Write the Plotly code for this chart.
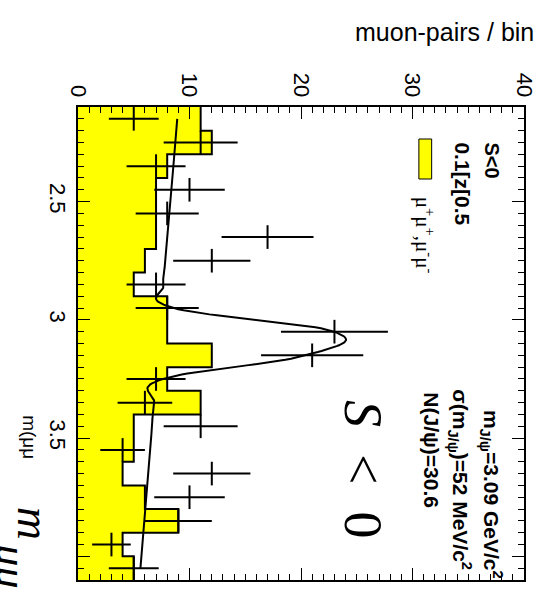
import math
import numpy as np
import plotly.graph_objects as go

# ---------------- data ----------------
mass_centers = [2.15, 2.25, 2.35, 2.45, 2.55, 2.65, 2.75, 2.85, 2.95, 3.05,
                3.15, 3.25, 3.35, 3.45, 3.55, 3.65, 3.75, 3.85, 3.95, 4.05]
bin_width = 0.1
# opposite-sign pairs (points with sqrt(N) errors)
os_counts = [5, 11, 7, 10, 8, 17, 12, 7, 8, 23,
             21, 7, 6, 11, 4, 12, 10, 9, 3, 5]
# like-sign pairs mu+mu+, mu-mu- (yellow histogram)
ls_counts = [11, 12, 8, 7, 7, 7, 6, 5, 8, 8,
             12, 8, 11, 5, 5, 4, 6, 9, 4, 5]
# fit result
fit_mass = 3.094     # GeV/c^2
fit_sigma = 0.052    # GeV/c^2
fit_njpsi = 30.6
bg_low = 8.9         # background level at first bin centre
bg_high = 5.6        # background level at last bin centre
curve_tension = 0.6  # smoothing of the drawn fit curve

value_ticks = [0, 10, 20, 30, 40]
mass_ticks = [2.5, 3.0, 3.5, 4.0]
mass_ticktext = ["2.5", "3", "3.5", ""]

# ---------------- derived ----------------
c = np.array(mass_centers)
lo = c - bin_width / 2
hi = c + bin_width / 2

step_x = np.repeat(np.array(ls_counts, float), 2)
step_y = np.column_stack([lo, hi]).ravel()

def Phi(z):
    return 0.5 * (1 + math.erf(z / math.sqrt(2)))

bg = bg_low + (bg_high - bg_low) * (c - c[0]) / (c[-1] - c[0])
sig = np.array([fit_njpsi * (Phi((h - fit_mass) / fit_sigma) - Phi((l - fit_mass) / fit_sigma))
                for l, h in zip(lo, hi)])
fit_vals = bg + sig

# smooth curve through the per-bin fit values (cardinal spline)
P = np.column_stack([fit_vals, c])
Pext = np.vstack([P[0], P, P[-1]])
curve = []
ts = np.linspace(0, 1, 25)
for i in range(len(P) - 1):
    p0, p1, p2, p3 = Pext[i], Pext[i + 1], Pext[i + 2], Pext[i + 3]
    m1 = curve_tension * (p2 - p0)
    m2 = curve_tension * (p3 - p1)
    for t in (ts if i == 0 else ts[1:]):
        h00 = 2 * t**3 - 3 * t**2 + 1
        h10 = t**3 - 2 * t**2 + t
        h01 = -2 * t**3 + 3 * t**2
        h11 = t**3 - t**2
        curve.append(h00 * p1 + h10 * m1 + h01 * p2 + h11 * m2)
curve = np.array(curve)

fig = go.Figure()
fig.add_trace(go.Scatter(x=step_x, y=step_y, mode="lines", fill="tozerox",
                         fillcolor="#ffff00", line=dict(color="black", width=2),
                         hoverinfo="skip", showlegend=False))
fig.add_trace(go.Scatter(x=curve[:, 0], y=curve[:, 1], mode="lines",
                         line=dict(color="black", width=2), showlegend=False))
fig.add_trace(go.Scatter(x=os_counts, y=c, mode="markers",
                         marker=dict(size=1, color="black", opacity=0),
                         error_x=dict(type="data", array=np.sqrt(os_counts), width=0,
                                      thickness=2, color="black"),
                         error_y=dict(type="constant", value=bin_width / 2, width=0,
                                      thickness=2, color="black"),
                         showlegend=False))

L, R, T, B = 78, 532, 107, 580
W, H = 549, 606

def px(x):
    return (x - L) / (R - L)

def py(y):
    return (B - y) / (B - T)

FONT = "Liberation Sans, Arial, sans-serif"
SERIF = "Liberation Serif, Times New Roman, serif"

fig.update_layout(
    width=W, height=H,
    margin=dict(l=L, r=W - R, t=T, b=H - B, pad=0),
    plot_bgcolor="white", paper_bgcolor="white",
    font=dict(family=FONT, color="black"),
    xaxis=dict(range=[0, 40], side="top", tickmode="array", tickvals=value_ticks,
               tickangle=90, ticks="inside", ticklen=12, tickwidth=1, tickcolor="black",
               showline=True, linewidth=2, linecolor="black", mirror="ticks",
               showgrid=False, zeroline=False, tickfont=dict(size=22, family=FONT),
               minor=dict(tickmode="linear", tick0=0, dtick=1, ticks="inside",
                          ticklen=6, tickwidth=1, tickcolor="black", showgrid=False)),
    yaxis=dict(range=[4.1, 2.1], tickmode="array", tickvals=mass_ticks,
               ticktext=mass_ticktext, tickangle=90, ticks="inside", ticklen=12,
               tickwidth=1, tickcolor="black",
               showline=True, linewidth=2, linecolor="black", mirror="ticks",
               showgrid=False, zeroline=False, tickfont=dict(size=22, family=FONT),
               minor=dict(tickmode="linear", tick0=2.1, dtick=0.05, ticks="inside",
                          ticklen=6, tickwidth=1, tickcolor="black", showgrid=False)),
)

ann = []
ann.append(dict(text="muon-pairs / bin", x=px(544), y=py(32), xanchor="right",
                yanchor="middle", font=dict(size=25, family=FONT)))
ann.append(dict(text="m(μμ", x=px(29), y=py(413), xanchor="center", yanchor="top",
                textangle=90, font=dict(size=19, family=FONT)))
ann.append(dict(text="<i>m</i>", x=px(33), y=py(505), xanchor="center",
                yanchor="top", textangle=90, font=dict(size=46, family=SERIF)))
ann.append(dict(text="<i>μμ</i>", x=px(10), y=py(541), xanchor="center",
                yanchor="top", textangle=90, font=dict(size=44, family=SERIF)))
ann.append(dict(text="<b>S<0</b>", x=px(499), y=py(140), xanchor="center",
                yanchor="top", textangle=90, font=dict(size=20, family=FONT)))
ann.append(dict(text="<b>0.1[z[0.5</b>", x=px(469), y=py(140), xanchor="center",
                yanchor="top", textangle=90, font=dict(size=21, family=FONT)))
ann.append(dict(text="μ<sup>+</sup>μ<sup>+</sup>,μ<sup>-</sup>μ<sup>-</sup>", x=px(431),
                y=py(195), xanchor="center", yanchor="top", textangle=90,
                font=dict(size=21, family=SERIF)))
ann.append(dict(text="<b>m<sub>J/ψ</sub>=3.09 GeV/c<sup>2</sup></b>", x=px(499), y=py(408),
                xanchor="center", yanchor="top", textangle=90, font=dict(size=21, family=FONT)))
ann.append(dict(text="<b>σ(m<sub>J/ψ</sub>)=52 MeV/c<sup>2</sup></b>", x=px(467), y=py(387),
                xanchor="center", yanchor="top", textangle=90, font=dict(size=21, family=FONT)))
ann.append(dict(text="<b>N(J/ψ)=30.6</b>", x=px(438), y=py(390),
                xanchor="center", yanchor="top", textangle=90, font=dict(size=21, family=FONT)))
ann.append(dict(text="<i>S</i>&nbsp;&nbsp;&lt;&nbsp;&nbsp;0", x=px(368), y=py(398),
                xanchor="center", yanchor="top", textangle=90,
                font=dict(size=54, family=SERIF)))
for a in ann:
    a.update(xref="paper", yref="paper", showarrow=False)
fig.update_layout(annotations=ann)

fig.add_shape(type="rect", xref="paper", yref="paper", x0=px(425), x1=px(438),
              y0=py(179), y1=py(139), fillcolor="#ffff00", line=dict(color="black", width=1))

fig.write_html("out.html")
